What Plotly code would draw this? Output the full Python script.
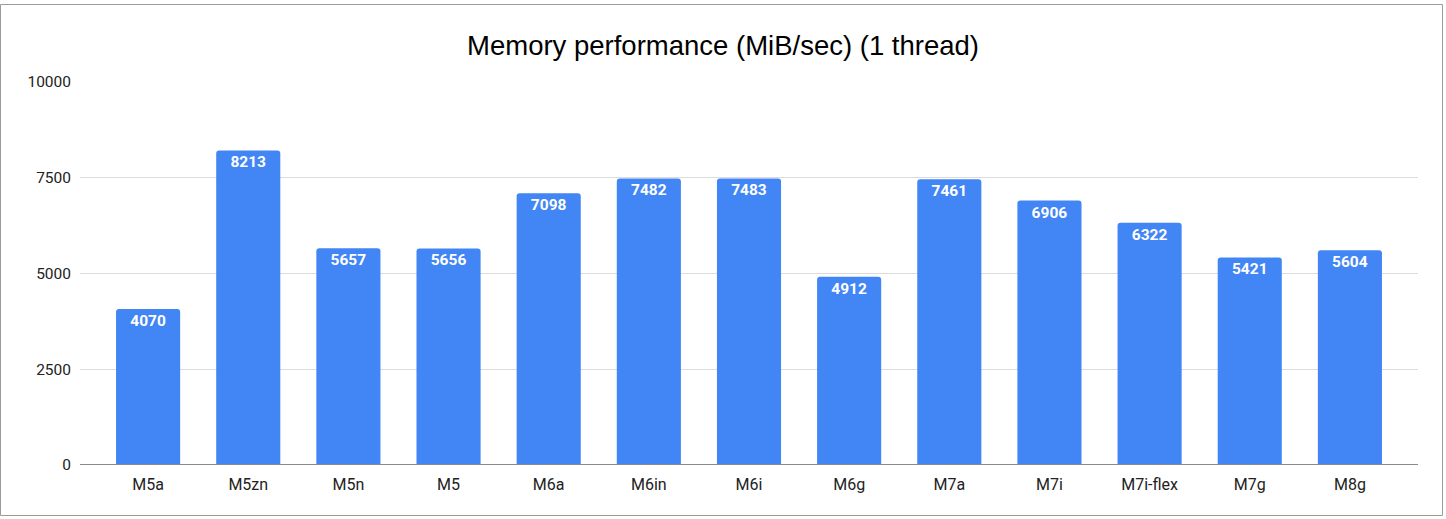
import plotly.graph_objects as go

categories = ["M5a", "M5zn", "M5n", "M5", "M6a", "M6in", "M6i", "M6g", "M7a", "M7i", "M7i-flex", "M7g", "M8g"]
values = [4070, 8213, 5657, 5656, 7098, 7482, 7483, 4912, 7461, 6906, 6322, 5421, 5604]
y_ticks = [0, 2500, 5000, 7500, 10000]

W, H = 1446, 519
L, R, T, B = 80, 28, 82, 54

fig = go.Figure(go.Bar(
    x=list(range(len(categories))),
    y=values,
    marker=dict(color="#4285F4", cornerradius=3, line=dict(width=0)),
    width=0.64,
    text=[str(v) for v in values],
    textposition="inside",
    insidetextanchor="end",
    textangle=0,
    textfont=dict(family="Roboto", size=15.5, color="white", weight="bold"),
    cliponaxis=False,
))

fig.update_layout(
    width=W, height=H,
    margin=dict(l=L, r=R, t=T, b=B),
    paper_bgcolor="white", plot_bgcolor="white",
    title=dict(text="Memory performance (MiB/sec) (1 thread)", x=0.5, xanchor="center",
               y=1 - 45 / H, yanchor="middle",
               font=dict(family="Liberation Sans", size=27.5, color="#000")),
    showlegend=False,
    uniformtext=dict(mode=False),
)
fig.update_xaxes(
    tickmode="array", tickvals=list(range(len(categories))), ticktext=categories,
    range=[-0.68, len(categories) - 1 + 0.68],
    showgrid=False, zeroline=False, showline=False, ticks="",
    ticklabelstandoff=8,
    tickfont=dict(family="Roboto", size=16, color="#222"),
)
fig.update_yaxes(
    range=[0, 10000], tickvals=y_ticks, ticktext=[str(t) for t in y_ticks],
    showgrid=True, gridcolor="#dcdcdc", gridwidth=1,
    zeroline=False, showline=False, ticks="", ticklabelstandoff=8,
    tickfont=dict(family="Roboto", size=15.5, color="#222"),
)
# baseline
fig.add_shape(type="line", xref="paper", yref="y", x0=0, x1=1, y0=0, y1=0,
              line=dict(color="#8a8a8a", width=2))
# chart border
pw, ph = W - L - R, H - T - B
fig.add_shape(type="rect", xref="paper", yref="paper",
              x0=(0.5 - L) / pw, x1=(1442.5 - L) / pw,
              y0=1 + (T - 515.5) / ph, y1=1 + (T - 4.5) / ph,
              line=dict(color="#9a9a9a", width=1), layer="below")

fig.write_html("out.html", config={"displayModeBar": False},
               post_script="document.body.style.margin='0px';")
